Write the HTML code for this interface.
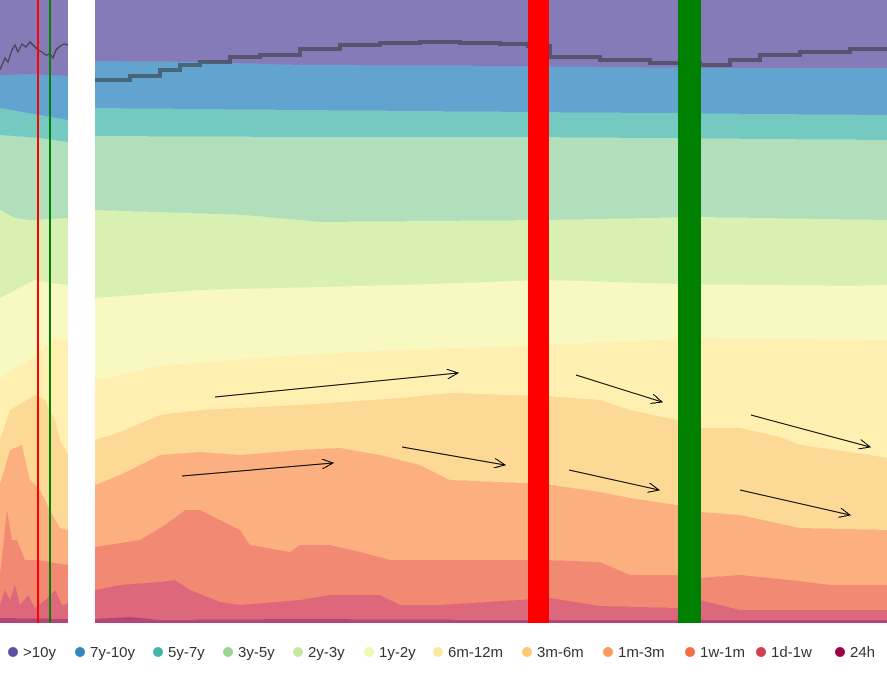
<!DOCTYPE html>
<html><head><style>
body{margin:0;background:#fff;width:887px;height:686px;overflow:hidden;font-family:"Liberation Sans",sans-serif}
.lg{position:absolute;top:644px;font-size:15px;color:#333;white-space:nowrap}
.lg span{display:inline-block;width:10px;height:10px;border-radius:50%;margin-right:5px;vertical-align:0px}
</style></head><body>
<svg width="887" height="623" style="position:absolute;left:0;top:0" shape-rendering="crispEdges">
<defs><marker id="ah" markerWidth="12" markerHeight="10" refX="11" refY="5" orient="auto" markerUnits="userSpaceOnUse"><path d="M0,0 L11,5 L0,10" fill="none" stroke="#000" stroke-width="1"/></marker></defs>
<g id="main">
<rect x="95" y="0" width="792" height="623" fill="#857bb8"/>
<polygon fill="#62a4cf" points="95,61 200,62 300,65 530,66 700,68 887,68 887,623 95,623"/>
<polygon fill="#74c9c0" points="95,108 300,110 530,112 887,115 887,623 95,623"/>
<polygon fill="#b1dfbc" points="95,136 300,137 530,137 887,140 887,623 95,623"/>
<polygon fill="#d9f0b3" points="95,210 245,215 320,222 545,220 700,217 887,220 887,623 95,623"/>
<polygon fill="#f7f9c0" points="95,298 200,290 400,285 545,280 680,284 850,286 887,285 887,623 95,623"/>
<polygon fill="#fff0b1" points="95,380 165,365 300,355 400,350 545,345 700,338 887,340 887,623 95,623"/>
<polygon fill="#fdd996" points="95,440 120,432 160,415 200,410 300,405 400,398 450,393 545,396 600,400 630,410 677,420 700,428 740,428 780,437 800,445 870,455 887,458 887,623 95,623"/>
<polygon fill="#fcb07f" points="95,485 120,475 160,455 200,452 240,455 300,450 340,448 380,455 420,465 450,480 545,484 600,492 630,498 677,505 700,512 740,515 800,528 887,530 887,623 95,623"/>
<polygon fill="#f18973" points="95,547 140,540 165,525 185,510 200,510 220,520 240,530 250,545 290,552 300,545 330,545 360,552 390,560 545,560 600,562 630,575 677,575 700,578 740,575 790,580 830,585 887,585 887,623 95,623"/>
<polygon fill="#dd677b" points="95,590 120,585 160,582 175,580 190,590 220,602 240,605 300,600 330,595 380,595 400,605 440,605 550,598 600,606 677,608 700,600 740,610 887,610 887,623 95,623"/>
<polygon fill="#b64577" points="95,619 130,617 160,620 300,619 500,620 887,620 887,623 95,623"/>
<polyline fill="none" stroke="#333" stroke-opacity="0.55" stroke-width="4" points="95,80 130,80 130,76 160,76 160,70 180,70 180,65 200,65 200,62 230,62 230,57 260,57 260,55 300,55 300,49 340,49 340,45 380,45 380,43 420,43 420,42 460,42 460,43 500,43 500,44 528,44 528,46 550,46 550,57 600,57 600,60 650,60 650,63 678,63 700,63 700,65 730,65 730,60 760,60 760,55 800,55 800,52 850,52 850,49 887,49"/>
</g>
<g id="left">
<rect x="0" y="0" width="68" height="623" fill="#857bb8"/>
<polygon fill="#62a4cf" points="0,75 30,74 68,76 68,623 0,623"/>
<polygon fill="#74c9c0" points="0,108 40,115 68,120 68,623 0,623"/>
<polygon fill="#b1dfbc" points="0,135 40,138 68,142 68,623 0,623"/>
<polygon fill="#d9f0b3" points="0,210 15,218 30,220 68,218 68,623 0,623"/>
<polygon fill="#f7f9c0" points="0,298 15,290 35,280 50,283 68,285 68,623 0,623"/>
<polygon fill="#fff0b1" points="0,378 15,368 30,360 55,338 68,342 68,623 0,623"/>
<polygon fill="#fdd996" points="0,440 10,410 35,395 45,400 55,420 60,440 68,455 68,623 0,623"/>
<polygon fill="#fcb07f" points="0,484 10,450 22,445 30,480 40,490 50,510 60,528 68,530 68,623 0,623"/>
<polygon fill="#f18973" points="0,575 7,510 12,540 17,540 25,560 38,560 68,565 68,623 0,623"/>
<polygon fill="#dd677b" points="0,605 5,590 10,600 15,585 20,605 28,595 35,608 45,600 55,590 62,605 68,603 68,623 0,623"/>
<polygon fill="#b64577" points="0,618 68,619 68,623 0,623"/>
<polyline fill="none" stroke="#333" stroke-opacity="0.7" stroke-width="1.5" points="0,70 5,58 8,62 12,50 15,45 18,52 22,44 26,47 30,42 34,46 38,50 42,52 46,55 50,54 53,58 56,50 60,46 64,44 68,45"/>
<rect x="37" y="0" width="2" height="623" fill="#f00"/>
<rect x="49" y="0" width="2" height="623" fill="#008000"/>
</g>
<rect x="528" y="0" width="21" height="623" fill="#f00"/>
<rect x="678" y="0" width="23" height="623" fill="#008000"/>
<g stroke="#000" stroke-width="1" marker-end="url(#ah)" shape-rendering="auto">
<line x1="215" y1="397" x2="458" y2="373"/>
<line x1="182" y1="476" x2="333" y2="463"/>
<line x1="402" y1="447" x2="505" y2="465"/>
<line x1="576" y1="375" x2="662" y2="402"/>
<line x1="569" y1="470" x2="659" y2="490"/>
<line x1="751" y1="415" x2="870" y2="447"/>
<line x1="740" y1="490" x2="850" y2="515"/>
</g>
</svg>
<div class="lg" style="left:8px"><span style="background:#5e4fa2"></span>&gt;10y</div>
<div class="lg" style="left:75px"><span style="background:#3288bd"></span>7y-10y</div>
<div class="lg" style="left:153px"><span style="background:#41b6a8"></span>5y-7y</div>
<div class="lg" style="left:223px"><span style="background:#99d594"></span>3y-5y</div>
<div class="lg" style="left:293px"><span style="background:#c7e89e"></span>2y-3y</div>
<div class="lg" style="left:364px"><span style="background:#f3f9b0"></span>1y-2y</div>
<div class="lg" style="left:433px"><span style="background:#fee89b"></span>6m-12m</div>
<div class="lg" style="left:522px"><span style="background:#fdca72"></span>3m-6m</div>
<div class="lg" style="left:603px"><span style="background:#fc9b5a"></span>1m-3m</div>
<div class="lg" style="left:685px"><span style="background:#f46d43"></span>1w-1m</div>
<div class="lg" style="left:756px"><span style="background:#d53e4f"></span>1d-1w</div>
<div class="lg" style="left:835px"><span style="background:#9e0142"></span>24h</div>
</body></html>
